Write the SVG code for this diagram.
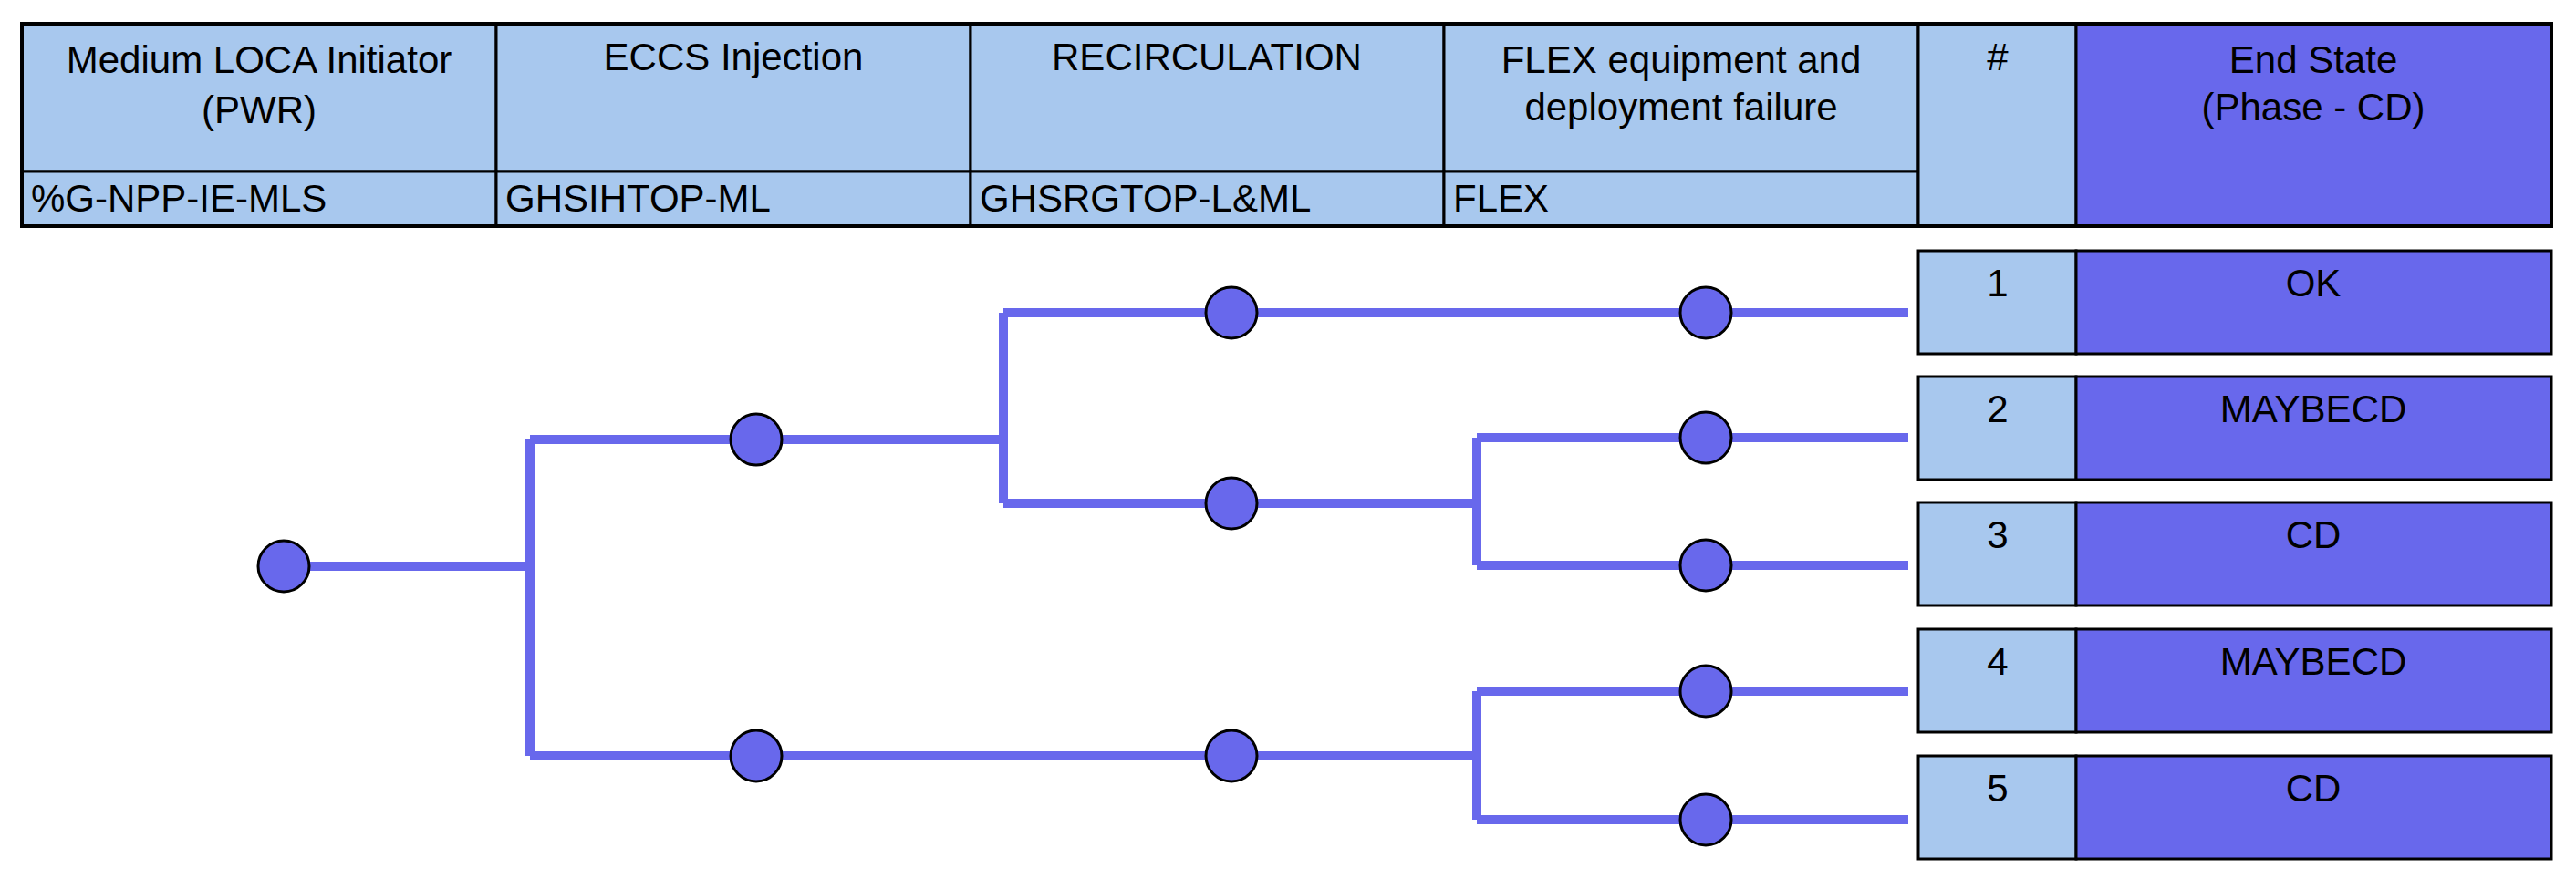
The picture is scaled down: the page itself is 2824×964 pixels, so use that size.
<svg xmlns="http://www.w3.org/2000/svg" width="2824" height="964" viewBox="0 0 2824 964">
<style>
.lb{fill:#a8c8ee;stroke:#000;stroke-width:3}
.db{fill:#6868ec;stroke:#000;stroke-width:3}
text{font-family:"Liberation Sans",Arial,sans-serif;font-size:42px;fill:#000}
.c{text-anchor:middle}
.ln{stroke:#6868ec;stroke-width:10;fill:none}
.nd{fill:#6868ec;stroke:#000;stroke-width:3}
</style>
<rect width="2824" height="964" fill="#fff"/>
<g id="header">
<rect class="lb" x="24" y="26" width="520" height="162"/>
<rect class="lb" x="544" y="26" width="520" height="162"/>
<rect class="lb" x="1064" y="26" width="519" height="162"/>
<rect class="lb" x="1583" y="26" width="520" height="162"/>
<rect class="lb" x="24" y="188" width="520" height="60"/>
<rect class="lb" x="544" y="188" width="520" height="60"/>
<rect class="lb" x="1064" y="188" width="519" height="60"/>
<rect class="lb" x="1583" y="188" width="520" height="60"/>
<rect class="lb" x="2103" y="26" width="173" height="222"/>
<rect class="db" x="2276" y="26" width="521" height="222"/>
<rect x="24" y="26" width="2773" height="222" fill="none" stroke="#000" stroke-width="4"/>
<text class="c" x="284" y="80">Medium LOCA Initiator</text>
<text class="c" x="284" y="135">(PWR)</text>
<text class="c" x="804" y="77">ECCS Injection</text>
<text class="c" x="1323" y="77">RECIRCULATION</text>
<text class="c" x="1843" y="80">FLEX equipment and</text>
<text class="c" x="1843" y="132">deployment failure</text>
<text class="c" x="2190" y="77">#</text>
<text class="c" x="2536" y="80">End State</text>
<text class="c" x="2536" y="132">(Phase - CD)</text>
<text x="34" y="232">%G-NPP-IE-MLS</text>
<text x="554" y="232">GHSIHTOP-ML</text>
<text x="1074" y="232">GHSRGTOP-L&amp;ML</text>
<text x="1593" y="232">FLEX</text>
</g>
<g id="connectors">
<path class="ln" d="M311 621H581M581 482V829M581 482H1100M1100 343V552M1100 343H2092M1100 552H1619M1619 480V620M1619 480H2092M1619 620H2092M581 829H1619M1619 758V899M1619 758H2092M1619 899H2092"/>
</g>
<g id="nodes">
<circle id="n0" class="nd" cx="311" cy="621" r="28"/>
<circle id="n1" class="nd" cx="829" cy="482" r="28"/>
<circle id="n2" class="nd" cx="829" cy="829" r="28"/>
<circle id="n3" class="nd" cx="1350" cy="343" r="28"/>
<circle id="n4" class="nd" cx="1350" cy="552" r="28"/>
<circle id="n5" class="nd" cx="1350" cy="829" r="28"/>
<circle id="n6" class="nd" cx="1870" cy="343" r="28"/>
<circle id="n7" class="nd" cx="1870" cy="480" r="28"/>
<circle id="n8" class="nd" cx="1870" cy="620" r="28"/>
<circle id="n9" class="nd" cx="1870" cy="758" r="28"/>
<circle id="n10" class="nd" cx="1870" cy="899" r="28"/>
</g>
<g id="end1"><rect class="lb" x="2103" y="275" width="173" height="113"/><rect class="db" x="2276" y="275" width="521" height="113"/><text class="c" x="2190" y="325">1</text><text class="c" x="2536" y="325">OK</text></g>
<g id="end2"><rect class="lb" x="2103" y="413" width="173" height="113"/><rect class="db" x="2276" y="413" width="521" height="113"/><text class="c" x="2190" y="463">2</text><text class="c" x="2536" y="463">MAYBECD</text></g>
<g id="end3"><rect class="lb" x="2103" y="551" width="173" height="113"/><rect class="db" x="2276" y="551" width="521" height="113"/><text class="c" x="2190" y="601">3</text><text class="c" x="2536" y="601">CD</text></g>
<g id="end4"><rect class="lb" x="2103" y="690" width="173" height="113"/><rect class="db" x="2276" y="690" width="521" height="113"/><text class="c" x="2190" y="740">4</text><text class="c" x="2536" y="740">MAYBECD</text></g>
<g id="end5"><rect class="lb" x="2103" y="829" width="173" height="113"/><rect class="db" x="2276" y="829" width="521" height="113"/><text class="c" x="2190" y="879">5</text><text class="c" x="2536" y="879">CD</text></g>
</svg>
